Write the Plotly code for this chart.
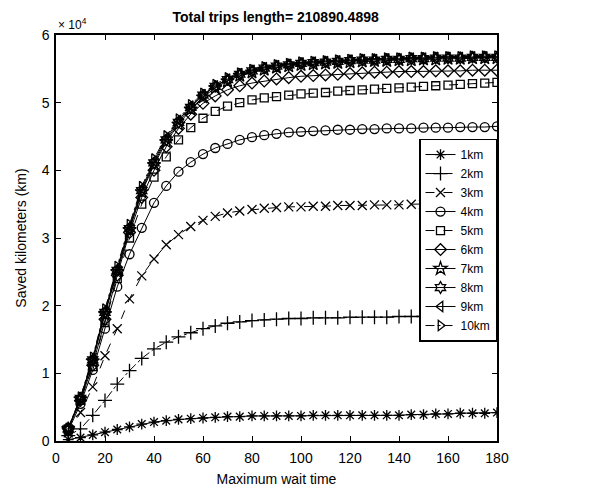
import plotly.graph_objects as go

wait_time = list(range(5, 185, 5))

km1 = [0.02,0.05,0.09,0.13,0.17,0.21,0.25,0.28,0.30,0.32,0.33,0.34,0.35,0.36,0.36,0.37,0.37,0.37,
       0.37,0.37,0.38,0.38,0.38,0.38,0.38,0.38,0.38,0.38,0.39,0.39,0.40,0.40,0.41,0.41,0.41,0.42]
km2 = [0.08,0.18,0.38,0.60,0.84,1.04,1.22,1.36,1.46,1.54,1.60,1.66,1.70,1.74,1.76,1.78,1.79,1.80,
       1.81,1.81,1.82,1.82,1.82,1.83,1.83,1.83,1.83,1.84,1.84,1.84,1.84,1.84,1.84,1.85,1.85,1.85]
km3 = [0.12,0.42,0.80,1.26,1.66,2.10,2.44,2.69,2.90,3.05,3.17,3.26,3.32,3.37,3.40,3.42,3.44,3.45,
       3.46,3.46,3.47,3.47,3.48,3.48,3.48,3.49,3.49,3.49,3.50,3.50,3.50,3.50,3.51,3.51,3.51,3.52]
km4 = [0.15,0.55,1.05,1.66,2.28,2.76,3.15,3.52,3.77,3.98,4.12,4.24,4.33,4.39,4.45,4.49,4.52,4.54,
       4.56,4.57,4.58,4.59,4.60,4.60,4.61,4.61,4.62,4.62,4.62,4.63,4.63,4.63,4.64,4.64,4.64,4.65]
km5 = [0.18,0.60,1.10,1.75,2.40,3.00,3.50,3.90,4.20,4.45,4.63,4.77,4.87,4.95,5.00,5.04,5.07,5.09,
       5.11,5.13,5.14,5.15,5.17,5.18,5.19,5.20,5.21,5.22,5.23,5.24,5.25,5.26,5.27,5.28,5.29,5.30]
km6 = [0.18,0.60,1.12,1.80,2.45,3.08,3.60,4.00,4.35,4.62,4.83,4.99,5.10,5.19,5.25,5.29,5.32,5.35,
       5.37,5.39,5.40,5.41,5.42,5.43,5.44,5.45,5.45,5.46,5.46,5.46,5.47,5.47,5.47,5.48,5.48,5.48]
km7 = [0.18,0.62,1.18,1.88,2.50,3.12,3.68,4.08,4.42,4.68,4.90,5.08,5.22,5.32,5.40,5.45,5.49,5.52,
       5.54,5.56,5.57,5.58,5.59,5.60,5.61,5.62,5.62,5.63,5.63,5.64,5.64,5.65,5.65,5.66,5.66,5.66]
km8 = [0.18,0.63,1.20,1.90,2.52,3.14,3.70,4.11,4.45,4.71,4.93,5.11,5.24,5.34,5.42,5.47,5.51,5.54,
       5.56,5.58,5.59,5.60,5.61,5.62,5.63,5.63,5.64,5.64,5.65,5.65,5.66,5.66,5.66,5.67,5.67,5.67]
km9 = [0.19,0.64,1.22,1.93,2.55,3.17,3.73,4.14,4.48,4.74,4.95,5.12,5.25,5.35,5.43,5.48,5.52,5.55,
       5.57,5.59,5.60,5.61,5.62,5.63,5.64,5.64,5.65,5.65,5.66,5.66,5.67,5.67,5.67,5.68,5.68,5.68]
km10 = [0.19,0.65,1.24,1.95,2.58,3.20,3.76,4.17,4.51,4.76,4.97,5.14,5.27,5.37,5.44,5.49,5.53,5.56,
        5.58,5.60,5.61,5.62,5.63,5.64,5.65,5.65,5.66,5.66,5.67,5.67,5.68,5.68,5.68,5.69,5.69,5.69]

series_names = ["1km", "2km", "3km", "4km", "5km", "6km", "7km", "8km", "9km", "10km"]
series_values = [km1, km2, km3, km4, km5, km6, km7, km8, km9, km10]
series_symbols = ["asterisk-open", "cross-thin-open", "x-thin-open", "circle-open", "square-open",
                  "diamond-open", "star-open", "hexagram-open", "triangle-left-open", "triangle-right-open"]
series_dash = ["solid", "dashdot", "dash", "solid", "dash", "solid", "solid", "solid", "solid", "dashdot"]
series_size = [9, 10, 9, 9, 8, 9, 10, 9, 9, 9]

y_tick_vals = [0, 10000, 20000, 30000, 40000, 50000, 60000]
y_tick_text = ["0", "1", "2", "3", "4", "5", "6"]
x_tick_vals = [0, 20, 40, 60, 80, 100, 120, 140, 160, 180]

fig = go.Figure()
for name, vals, sym, dash, sz in zip(series_names, series_values, series_symbols, series_dash, series_size):
    fig.add_trace(go.Scatter(
        x=wait_time, y=[v * 10000 for v in vals], name=name, mode="lines+markers",
        line=dict(color="black", width=1, dash=dash),
        marker=dict(symbol=sym, size=sz, color="black", line=dict(color="black", width=1.3)),
    ))

font = "Liberation Sans, Arial, sans-serif"
fig.update_layout(
    width=592, height=489,
    margin=dict(l=44, r=103, t=27, b=54),
    paper_bgcolor="white", plot_bgcolor="white",
    font=dict(family=font, color="black", size=14),
    title=dict(text="<b>Total trips length= 210890.4898</b>", x=0.452, xanchor="center",
               yref="container", y=0.992, yanchor="top", font=dict(size=14, family=font)),
    showlegend=True,
    legend=dict(x=1, xanchor="right", y=0.745, yanchor="top", bgcolor="white",
                bordercolor="black", borderwidth=1.5, font=dict(size=12, family=font),
                itemwidth=30, tracegroupgap=0),
    xaxis=dict(range=[0, 180], tickvals=x_tick_vals, showgrid=False, zeroline=False,
               showline=True, linecolor="black", linewidth=1.5, mirror="allticks",
               ticks="inside", ticklen=5, tickcolor="black", ticklabelstandoff=3,
               title=dict(text="Maximum wait time", font=dict(size=14), standoff=10)),
    yaxis=dict(range=[0, 60000], tickvals=y_tick_vals, ticktext=y_tick_text, showgrid=False,
               zeroline=False, showline=True, linecolor="black", linewidth=1.5, mirror="allticks",
               ticks="inside", ticklen=5, tickcolor="black", ticklabelstandoff=2,
               title=dict(text="Saved kilometers (km)", font=dict(size=14), standoff=12)),
    annotations=[dict(text="× 10<sup>4</sup>", xref="paper", yref="paper", x=0.0, y=1.0,
                      xanchor="left", yanchor="bottom", showarrow=False, yshift=1,
                      font=dict(size=12, family=font))],
)

fig.write_html("out.html")
